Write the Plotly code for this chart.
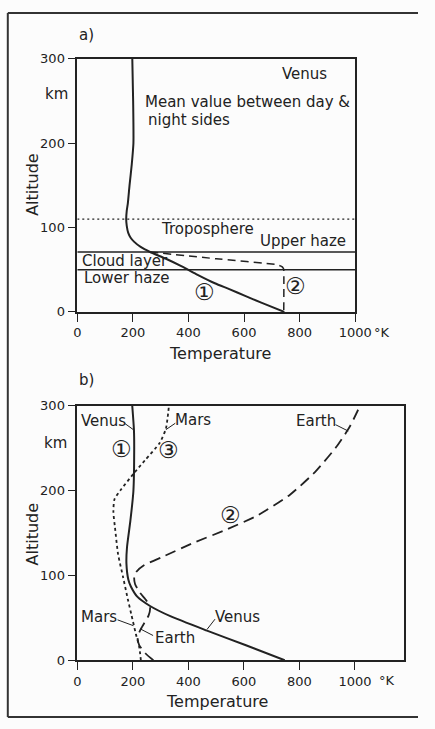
import plotly.graph_objects as go

W, H = 435, 729

# ---------------- data ----------------
# Panel a: Venus, mean value between day & night sides
venus_a_alt = [0, 11, 19, 27, 34, 44, 54, 63, 71, 77, 83, 88, 94, 102, 110, 120, 129, 150, 175, 200, 250, 300]
venus_a_temp = [745, 662, 604, 547, 495, 433, 376, 319, 262, 228, 205, 192, 183, 178, 176, 178, 182, 188, 196, 202, 201, 198]
# curve (2)
venus2_alt = [71, 63, 56, 54, 52, 50, 0]
venus2_temp = [262, 500, 719, 735, 741, 743, 743]
# layer boundaries (km)
tropopause_alt = 110
upper_haze_alt = 71
lower_haze_alt = 50

# Panel b
venus_b_alt = [0, 18, 35, 52, 64, 75, 87, 95, 114, 133, 164, 199, 250, 272, 300]
venus_b_temp = [747, 605, 467, 335, 262, 216, 193, 184, 177, 179, 191, 202, 205, 204, 198]
earth_alt = [0, 8, 18, 27, 37, 53, 62, 70, 80, 90, 98, 104, 112, 122, 139, 154, 171, 195, 222, 253, 276, 300]
earth_temp = [274, 246, 223, 217, 229, 257, 262, 250, 225, 208, 205, 212, 240, 307, 422, 536, 650, 765, 856, 936, 982, 1018]
mars_alt = [0, 16, 31, 55, 72, 98, 125, 156, 175, 190, 202, 221, 236, 256, 273, 300]
mars_temp = [229, 223, 211, 194, 182, 165, 147, 136, 130, 134, 159, 205, 244, 296, 319, 330]

x_ticks = [0, 200, 400, 600, 800, 1000]
x_ticktext = ["0", "200", "400", "600", "800", "1000"]
y_ticks = [0, 100, 200, 300]

FONT = "DejaVu Sans"
INK = "#222222"


def px(x):
    return x / W


def py(y):
    return 1 - y / H


fig = go.Figure()

line_kw = dict(mode="lines", showlegend=False, hoverinfo="skip")

# panel a
fig.add_trace(go.Scatter(x=venus_a_temp, y=venus_a_alt, line=dict(color=INK, width=2, shape="spline", smoothing=0.6),
                         xaxis="x", yaxis="y", **line_kw))
fig.add_trace(go.Scatter(x=venus2_temp, y=venus2_alt, line=dict(color=INK, width=1.5, dash="8px,5px", shape="spline", smoothing=0.3),
                         xaxis="x", yaxis="y", **line_kw))
fig.add_trace(go.Scatter(x=[0, 1000], y=[tropopause_alt] * 2, line=dict(color=INK, width=1.4, dash="2px,3px"),
                         xaxis="x", yaxis="y", **line_kw))
fig.add_trace(go.Scatter(x=[0, 1000], y=[upper_haze_alt] * 2, line=dict(color=INK, width=1.4),
                         xaxis="x", yaxis="y", **line_kw))
fig.add_trace(go.Scatter(x=[0, 1000], y=[lower_haze_alt] * 2, line=dict(color=INK, width=1.4),
                         xaxis="x", yaxis="y", **line_kw))

# panel b
fig.add_trace(go.Scatter(x=venus_b_temp, y=venus_b_alt, line=dict(color=INK, width=2, shape="spline", smoothing=0.6),
                         xaxis="x2", yaxis="y2", **line_kw))
fig.add_trace(go.Scatter(x=earth_temp, y=earth_alt, line=dict(color=INK, width=1.8, dash="11px,6px", shape="spline", smoothing=0.6),
                         xaxis="x2", yaxis="y2", **line_kw))
fig.add_trace(go.Scatter(x=mars_temp, y=mars_alt, line=dict(color=INK, width=1.8, dash="3px,3px", shape="spline", smoothing=0.6),
                         xaxis="x2", yaxis="y2", **line_kw))

axis_common = dict(showgrid=False, zeroline=False, showline=True, linecolor=INK, linewidth=1.5,
                   mirror=True, ticks="outside", ticklen=8, tickwidth=1.3, tickcolor=INK,
                   tickfont=dict(family=FONT, size=13, color=INK))

fig.update_layout(
    width=W, height=H,
    margin=dict(l=0, r=0, t=0, b=0),
    paper_bgcolor="#fcfcfc", plot_bgcolor="#fcfcfc",
    xaxis=dict(domain=[px(77), px(369)], range=[0, 1000], anchor="y",
               tickvals=x_ticks, ticktext=x_ticktext, **axis_common),
    yaxis=dict(domain=[py(311.3), py(53)], range=[0, 300], anchor="x",
               tickvals=y_ticks, **axis_common),
    xaxis2=dict(domain=[px(77), px(420.7)], range=[0, 1178], anchor="y2",
                tickvals=x_ticks, ticktext=x_ticktext, **axis_common),
    yaxis2=dict(domain=[py(667), py(407.3)], range=[0, 300], anchor="x2",
                tickvals=y_ticks, **axis_common),
)

ann = []


def text(t, x, y, xref, yref, size=15, xanchor="center", yanchor="middle", angle=0):
    ann.append(dict(text=t, x=x, y=y, xref=xref, yref=yref, showarrow=False,
                    xanchor=xanchor, yanchor=yanchor, textangle=angle,
                    font=dict(family=FONT, size=size, color=INK)))


def circ(t, x, y, xref, yref):
    text(t, x, y, xref, yref, size=23)


# paper-level labels
text("a)", px(77), py(29), "paper", "paper", size=15, xanchor="left")
text("b)", px(77), py(381), "paper", "paper", size=15, xanchor="left")
text("km", px(55), py(89), "paper", "paper")
text("km", px(54), py(445), "paper", "paper")
text("Altitude", px(30), py(181), "paper", "paper", size=16, angle=-90)
text("Altitude", px(30), py(538), "paper", "paper", size=16, angle=-90)
text("Temperature", px(227), py(354), "paper", "paper", size=16)
text("Temperature", px(224), py(709), "paper", "paper", size=16)
text("°K", px(387), py(332.5), "paper", "paper", size=13, xanchor="left")
text("°K", px(392), py(688), "paper", "paper", size=13, xanchor="left")

# panel a labels
text("Venus", 819, 282, "x", "y")
text("Mean value between day &", 237, 248.5, "x", "y", xanchor="left")
text("night sides", 247, 227.5, "x", "y", xanchor="left")
text("Troposphere", 470, 98, "x", "y")
text("Upper haze", 814, 84, "x", "y")
text("Cloud layer", 10, 60.5, "x", "y", xanchor="left")
text("Lower haze", 17, 40, "x", "y", xanchor="left")
circ("①", 456, 23.5, "x", "y")
circ("②", 785, 30.5, "x", "y")

# panel b labels
text("Venus", 94, 282.7, "x2", "y2")
text("Mars", 416, 283, "x2", "y2")
text("Earth", 859, 282.7, "x2", "y2")
circ("①", 159, 248.7, "x2", "y2")
circ("③", 330, 248, "x2", "y2")
circ("②", 550, 171.8, "x2", "y2")
text("Mars", 79, 50.5, "x2", "y2")
text("Earth", 353, 26.2, "x2", "y2")
text("Venus", 576, 50.5, "x2", "y2")

shapes = []


def leader(x0, y0, x1, y1):
    shapes.append(dict(type="line", xref="x2", yref="y2", x0=x0, y0=y0, x1=x1, y1=y1,
                       line=dict(color=INK, width=1)))


leader(170, 279.6, 202, 272)
leader(353, 279.6, 319, 272)
leader(930, 277.9, 976, 270.3)
leader(145, 47.7, 202, 40.8)
leader(273, 29.2, 227, 37)
leader(496, 48.5, 467, 36.3)

# outer frame (open on the right)
for (x0, y0, x1, y1) in [(4, 6, 435, 6), (4, 6, 4, 725), (4, 725, 435, 725)]:
    shapes.append(dict(type="line", xref="paper", yref="paper", x0=px(x0), y0=py(y0), x1=px(x1), y1=py(y1),
                       line=dict(color="#333333", width=2)))

fig.update_layout(annotations=ann, shapes=shapes)

fig.write_html("out.html",
               config={"displayModeBar": False},
               post_script="document.body.style.margin='0';document.body.style.overflow='hidden';")
